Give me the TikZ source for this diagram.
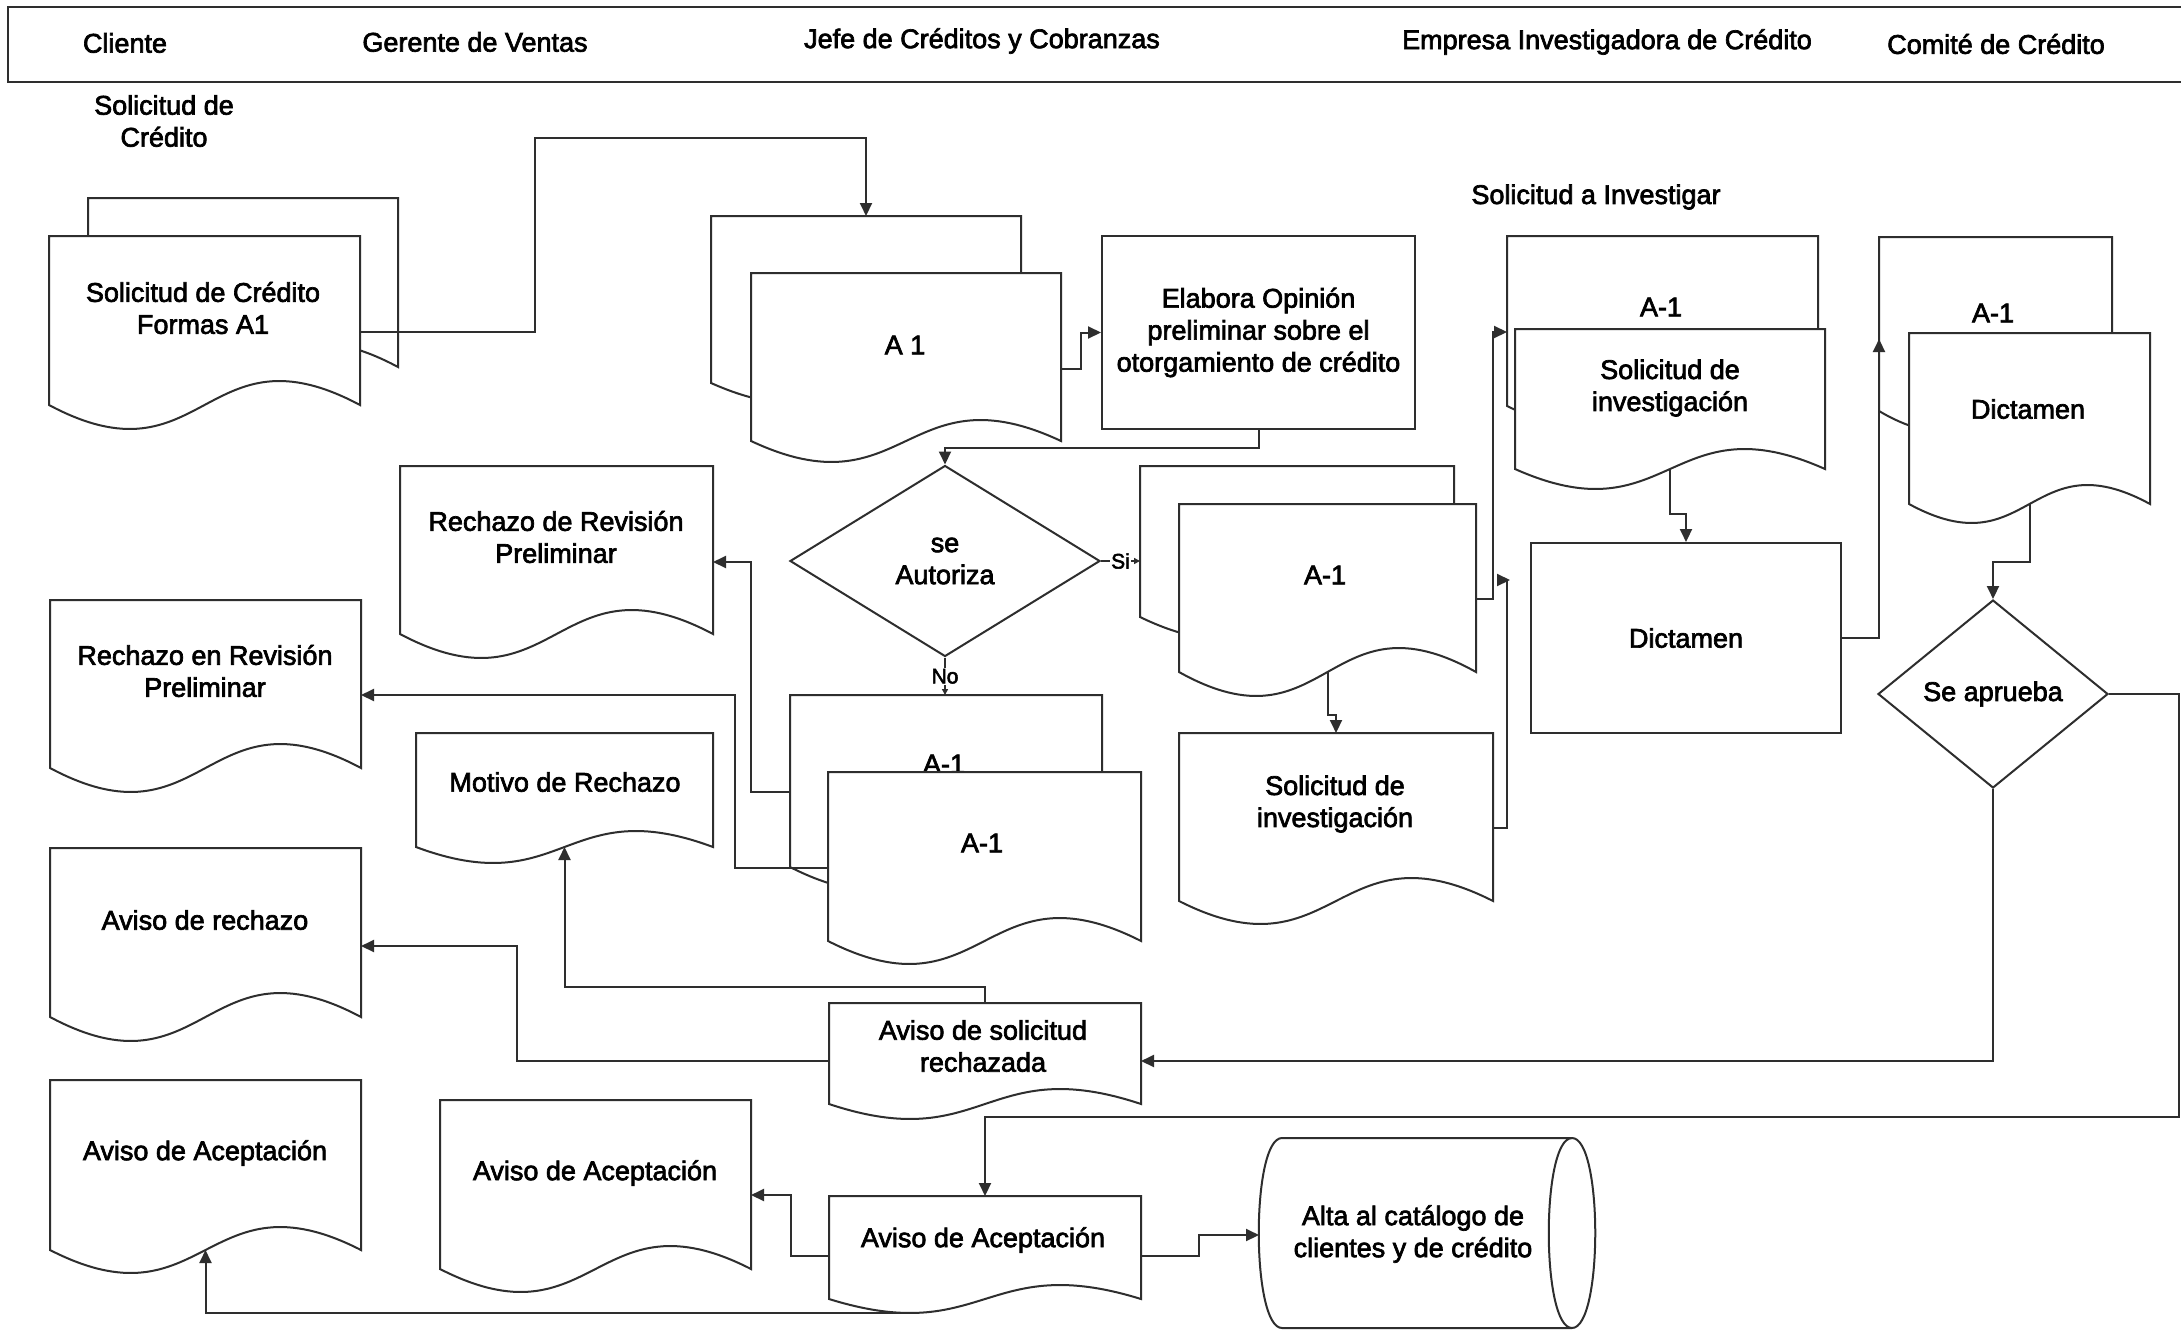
\documentclass[tikz,border=0pt]{standalone}
\usepackage{fontspec}
\setmainfont{Liberation Sans}[FakeBold=2.5]
\usetikzlibrary{arrows.meta,calc,shapes.geometric}
\definecolor{ink}{HTML}{2E2E2E}

% document symbol: rectangle with a wavy lower edge
% #1 name, #2 left, #3 top, #4 right, #5 base of the wave, #6 wave amplitude
\newcommand\mkdoc[6]{%
  \node[anchor=north west, inner sep=0pt, outer sep=0pt,
        minimum width={(#4-#2)*1pt}, minimum height={(#5-#3)*1pt}] (#1) at (#2,#3) {};
  \draw[shp] (#1.north west) -- (#1.north east) -- (#1.south east)
    .. controls ($(#1.south)+(0,-3.46*#6)$) and ($(#1.south)+(0,3.46*#6)$) .. (#1.south west) -- cycle;
}

\begin{document}
\begin{tikzpicture}[x=1pt,y=-1pt,
  shp/.style={draw=ink, line width=2pt, fill=white},
  conn/.style={draw=ink, line width=2pt, -{Triangle[length=13pt,width=12pt]}},
  small/.style={draw=ink, line width=2pt, -{Triangle[length=6pt,width=6pt]}},
  txt/.style={align=center, font=\fontsize{27}{32}\selectfont, inner sep=0pt, text=black},
  lbl/.style={font=\fontsize{21}{24}\selectfont, fill=white, inner sep=1pt},
  box/.style={shp, align=center, font=\fontsize{27}{32}\selectfont, inner sep=0pt, anchor=north west},
  dia/.style={shp, diamond, align=center, font=\fontsize{27}{32}\selectfont, inner sep=0pt},
]
\useasboundingbox (0,0) rectangle (2181,1330);
\fill[white] (0,0) rectangle (2181,1330);

% swim-lane header
\node[draw=ink, line width=2pt, minimum width=2200pt, minimum height=75pt,
      anchor=north west, inner sep=0pt] (lanes) at (7,6) {};
\node[txt] (l1) at (125,43) {Cliente};
\node[txt] (l2) at (475,42) {Gerente de Ventas};
\node[txt] (l3) at (982,41) {Jefe de Créditos y Cobranzas};
\node[txt] (l4) at (1607,42) {Empresa Investigadora de Crédito};
\node[txt] (l5) at (1996,44) {Comité de Crédito};

% Cliente: credit application
\node[txt] (solcred) at (164,121) {Solicitud de\\Crédito};
\mkdoc{docAb}{88}{198}{398}{367}{24}
\mkdoc{docA}{49}{236}{360}{405}{24}
\node[txt] (docAt) at (203,308) {Solicitud de Crédito\\Formas A1};

% Jefe de Créditos
\mkdoc{jefeB}{711}{216}{1021}{383}{20}
\mkdoc{jefeF}{751}{273}{1061}{441}{21}
\node[txt] (jefeFt) at (905,345) {A 1};

\node[box, minimum width=313pt, minimum height=193pt] (elabora) at (1101,235)
  {Elabora Opinión\\preliminar sobre el\\otorgamiento de crédito};

\node[dia, minimum width=310pt, minimum height=191pt] (autoriza) at (945,561) {se\\Autoriza};

\mkdoc{siB}{1140}{466}{1454}{617}{22}
\mkdoc{siF}{1179}{504}{1476}{672}{24}
\node[txt] (siFt) at (1325,575) {A-1};

\mkdoc{noB}{790}{695}{1102}{867}{23}
\node[txt] (noBt) at (944,764) {A-1};
\mkdoc{noF}{828}{772}{1141}{941}{23}
\node[txt] (noFt) at (982,843) {A-1};

\mkdoc{solInv}{1179}{733}{1493}{901}{23}
\node[txt] (solInvt) at (1335,804) {Solicitud de\\investigación};

% rejection documents
\mkdoc{rechRev}{400}{466}{713}{634}{24}
\node[txt] (rechRevt) at (556,537) {Rechazo de Revisión\\Preliminar};
\mkdoc{rechEn}{50}{600}{361}{768}{24}
\node[txt] (rechEnt) at (205,671) {Rechazo en Revisión\\Preliminar};
\mkdoc{motivo}{416}{733}{713}{847}{16}
\node[txt] (motivot) at (565,782) {Motivo de Rechazo};
\mkdoc{avisoRech}{50}{848}{361}{1017}{24}
\node[txt] (avisoRecht) at (205,920) {Aviso de rechazo};
\mkdoc{avisoSol}{829}{1003}{1141}{1104}{15}
\node[txt] (avisoSolt) at (983,1046) {Aviso de solicitud\\rechazada};

% acceptance documents
\mkdoc{aceptL}{50}{1080}{361}{1250}{23}
\node[txt] (aceptLt) at (205,1153) {Aviso de Aceptación};
\mkdoc{aceptM}{440}{1100}{751}{1269}{23}
\node[txt] (aceptMt) at (595,1173) {Aviso de Aceptación};
\mkdoc{aceptC}{829}{1196}{1141}{1299}{14}
\node[txt] (aceptCt) at (983,1240) {Aviso de Aceptación};

% customer catalogue (stored data)
\node[inner sep=0pt, outer sep=0pt, minimum width=336pt, minimum height=190pt,
      anchor=north west] (cyl) at (1259,1138) {};
\draw[shp] (1282,1138) -- (1572,1138) .. controls (1603,1138) and (1603,1328) .. (1572,1328)
  -- (1282,1328) .. controls (1251,1328) and (1251,1138) .. (1282,1138) -- cycle;
\draw[draw=ink, line width=2pt] (1572,1138) .. controls (1541,1138) and (1541,1328) .. (1572,1328);
\node[txt] (cylt) at (1413,1234) {Alta al catálogo de\\clientes y de crédito};

% Empresa Investigadora
\node[txt] (solinv) at (1596,197) {Solicitud a Investigar};
\mkdoc{empB}{1507}{236}{1818}{406}{22}
\node[txt] (empBt) at (1661,307) {A-1};
\mkdoc{empF}{1515}{329}{1825}{469}{20}
\node[txt] (empFt) at (1670,388) {Solicitud de\\investigación};
\node[box, minimum width=310pt, minimum height=190pt] (dict) at (1530,542) {Dictamen};

% Comité de Crédito
\mkdoc{comB}{1879}{237}{2112}{411}{20}
\node[txt] (comBt) at (1993,313) {A-1};
\mkdoc{comF}{1909}{333}{2150}{504}{19}
\node[txt] (comFt) at (2028,409) {Dictamen};
\node[dia, minimum width=230pt, minimum height=188pt] (apr) at (1993,694) {Se aprueba};

% connectors
\draw[conn] (docA.east |- 0,332) -- (535,332) |- (866,138) -- (jefeB.north);
\draw[conn] (jefeF.east |- 0,369) -- (1081,369) |- (elabora.west);
\draw[conn] (elabora.south) -- ++(0,18) -| (autoriza.north);
\draw[small] (autoriza.east) -- (siB.west |- autoriza.east) node[lbl, midway] {Si};
\draw[small] (autoriza.south) -- (noB.north -| autoriza.south) node[lbl, midway] {No};
\draw[conn] (noB.west |- 0,792) -- (751,792) |- (rechRev.east |- 0,562);
\draw[conn] (noF.west |- 0,868) -- (735,868) |- (rechEn.east |- 0,695);
\draw[conn] (siF.south) -- ++(0,43) -| (solInv.north);
\draw[conn] (siF.east |- 0,599) -- (1493,599) |- (empB.west |- 0,332);
\coordinate (invend) at (1510,580);
\draw[conn] (solInv.east |- 0,828) -- (1507,828) -- (1507,580) -- (invend);
\draw[conn] (empF.south) -- ++(0,45) -| (dict.north);
\draw[conn] (dict.east) -| (comB.west |- 0,339);
\draw[conn] (comF.south) -- ++(0,58) -| (apr.north);
\draw[conn] (apr.east) -| (2179,1117) -| (aceptC.north);
\draw[conn] (apr.south) |- (avisoSol.east |- 0,1061);
\draw[conn] (avisoSol.west |- 0,1061) -- (517,1061) |- (avisoRech.east |- 0,946);
\draw[conn] (avisoSol.north) -- ++(0,-16) -| (motivo.south);
\draw[conn] (aceptC.west |- 0,1256) -- (791,1256) |- (aceptM.east |- 0,1195);
\draw[conn] (aceptC.east |- 0,1256) -- (1199,1256) |- (cyl.west |- 0,1235);
\coordinate (trough) at ($(aceptC.south west)!0.26!(aceptC.south east)+(0,14)$);
\draw[conn] (trough) -- (aceptL.south |- trough) -- (aceptL.south);
\end{tikzpicture}
\end{document}
